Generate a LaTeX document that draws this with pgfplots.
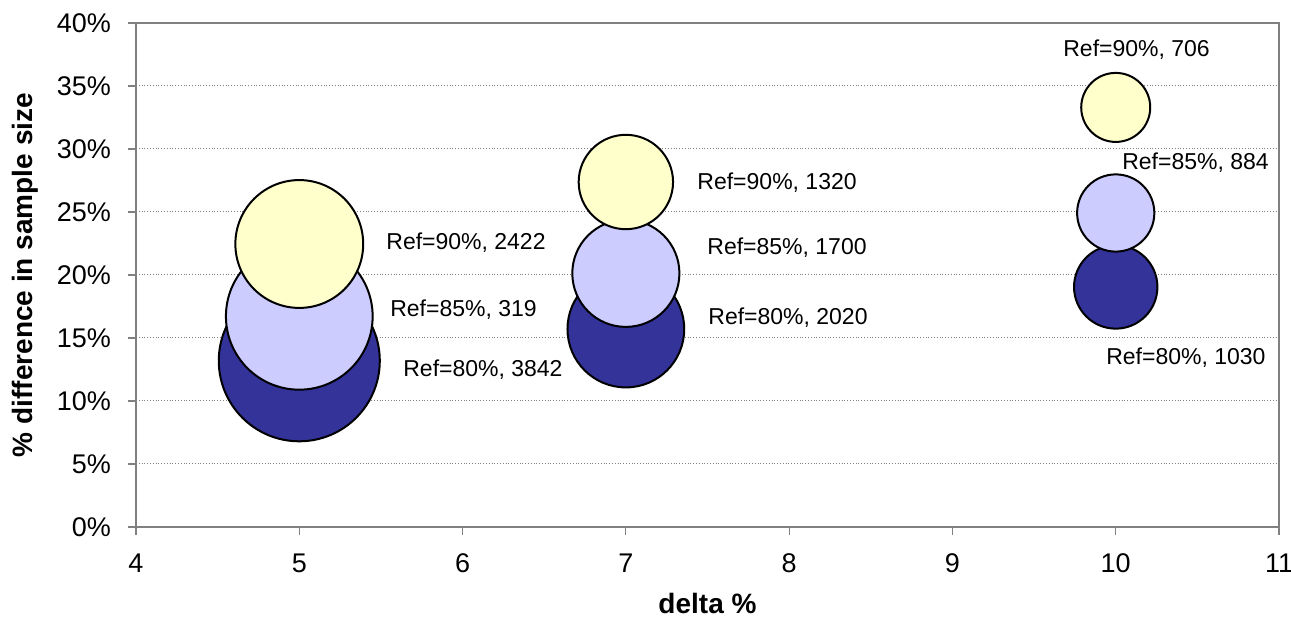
\documentclass[border=0pt]{standalone}
\usepackage{fontspec}
\setmainfont{Liberation Sans}
\usepackage{pgfplots}
\usepackage{pgfplotstable}
\pgfplotsset{compat=1.18}

\definecolor{refeighty}{HTML}{333399}
\definecolor{refeightyfive}{HTML}{CCCCFF}
\definecolor{refninety}{HTML}{FFFFCC}
\definecolor{axisgray}{HTML}{808080}

% bubble size column n (the 85% bubble at delta 5 is drawn at 3190)
\pgfplotstableread{
x y n
5 13.19 3842
7 15.71 2020
10 19.05 1030
}\tabeighty
\pgfplotstableread{
x y n
5 16.72 3190
7 20.13 1700
10 24.92 884
}\tabeightyfive
\pgfplotstableread{
x y n
5 22.46 2422
7 27.38 1320
10 33.30 706
}\tabninety

\pgfplotsset{
  bubble/.style={
    scatter, only marks, mark=*, line width=1pt,
    scatter/use mapped color={draw=black, fill=#1},
    visualization depends on={0.6494*sqrt(\thisrow{n}) \as \bsize},
    scatter/@pre marker code/.append style={/tikz/mark size=\bsize},
  },
}

\begin{document}
\begin{tikzpicture}
\begin{axis}[
  name=ax,
  scale only axis,
  width=571.5pt, height=252pt,
  xmin=4, xmax=11, ymin=0, ymax=40,
  xtick={4,5,...,11},
  ytick={0,5,...,40},
  yticklabel={\pgfmathprintnumber{\tick}\%},
  /pgf/number format/assume math mode=true,
  tick align=outside,
  major tick length=4pt,
  tick style={axisgray, line width=0.6pt},
  xtick pos=bottom, ytick pos=left,
  ymajorgrids,
  major grid style={gray, densely dotted, line width=0.5pt},
  axis line style={axisgray, line width=1.2pt},
  ticklabel style={font=\fontsize{13.5}{15}\selectfont},
  yticklabel style={xshift=-5pt},
  xticklabel style={yshift=-6pt},
  xlabel={delta \%},
  ylabel={\% difference in sample size},
  label style={font=\bfseries\fontsize{14}{16}\selectfont},
  xlabel style={at={(axis description cs:0.5,-0.151)}, anchor=center},
  ylabel style={at={(axis description cs:-0.0971,0.5)}, anchor=center},
  clip=false,
]
\addplot[bubble=refeighty] table[x=x, y=y] {\tabeighty};
\addplot[bubble=refeightyfive] table[x=x, y=y] {\tabeightyfive};
\addplot[bubble=refninety] table[x=x, y=y] {\tabninety};

\begin{scope}[every node/.style={anchor=west, inner sep=0pt, font=\fontsize{11.5}{13}\selectfont}]
\node at (axis cs:5.531,22.54) {Ref=90\%, 2422};
\node at (axis cs:5.555,17.22) {Ref=85\%, 319};
\node at (axis cs:5.635,12.46) {Ref=80\%, 3842};
\node at (axis cs:7.436,27.30) {Ref=90\%, 1320};
\node at (axis cs:7.497,22.14) {Ref=85\%, 1700};
\node at (axis cs:7.503,16.59) {Ref=80\%, 2020};
\node at (axis cs:9.677,37.86) {Ref=90\%, 706};
\node at (axis cs:10.038,28.89) {Ref=85\%, 884};
\node at (axis cs:9.940,13.41) {Ref=80\%, 1030};
\end{scope}

\coordinate (bl) at (rel axis cs:0,0);
\coordinate (tr) at (rel axis cs:1,1);
\end{axis}
\pgfresetboundingbox
\path[use as bounding box] ([shift={(-68pt,-50.5pt)}]bl) rectangle ([shift={(6pt,11.5pt)}]tr);
\end{tikzpicture}
\end{document}
